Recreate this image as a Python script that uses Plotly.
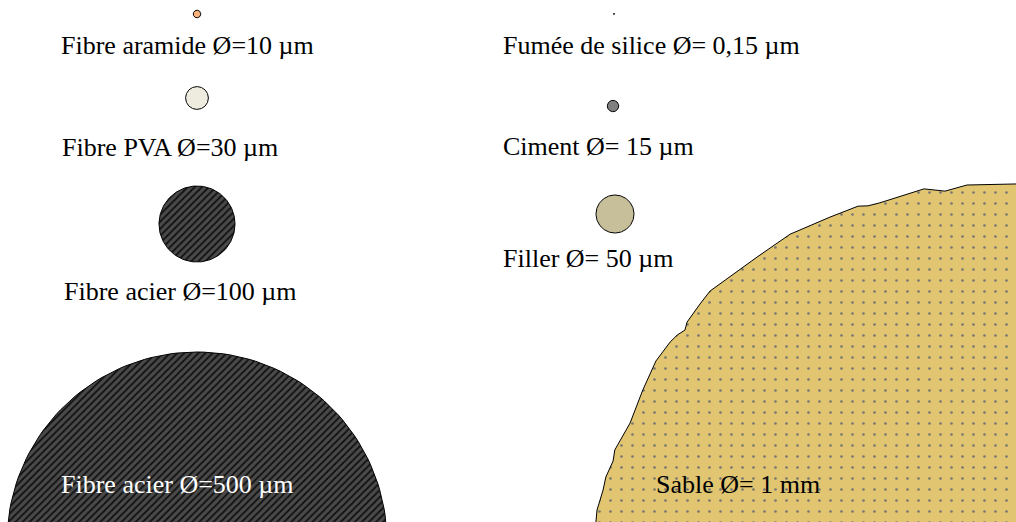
import numpy as np
import plotly.graph_objects as go

# ---------------- data ----------------
# diameters of constituents (µm)
fibre_names = ["Fibre aramide", "Fibre PVA", "Fibre acier", "Fibre acier"]
fibre_diam_um = [10, 30, 100, 500]
fibre_labels = ["Fibre aramide Ø=10 µm", "Fibre PVA Ø=30 µm",
                "Fibre acier Ø=100 µm", "Fibre acier Ø=500 µm"]

grain_names = ["Fumée de silice", "Ciment", "Filler"]
grain_diam_um = [0.15, 15, 50]
grain_labels = ["Fumée de silice Ø= 0,15 µm", "Ciment Ø= 15 µm", "Filler Ø= 50 µm"]

sand_diam_um = 1000
sand_label = "Sable Ø= 1 mm"
# irregular outline of sand grain: polar angle (deg) and radius factor
sand_angle_deg = [-60, -78, -83.98, -91.36, -94.76, -97.92, -104.93, -106.83, -108.29,
                  -112.87, -119.48, -125.59, -134.36, -136.83, -140.18, -141.32,
                  -142.67, -144.16, -147.74, -152.55, -157.97, -162.62, -164.31,
                  -166.92, -168.93, -172.04, -173.84, -180, -200]
sand_radius_factor = [1.0, 1.0, 1.003, 0.995, 0.982, 0.994, 0.981, 0.982, 0.989,
                      0.988, 0.994, 0.990, 1.001, 0.996, 0.990, 0.981,
                      0.989, 0.993, 0.996, 0.988, 0.982, 0.996, 0.992,
                      1.000, 1.000, 1.007, 1.006, 1.005, 1.0]

# ---------------- layout / styling ----------------
W, H = 1016, 522
SCALE = 0.76  # px per µm
fibre_centers = [(197, 14), (197, 98), (197, 224), (197, 542)]
fibre_label_pos = [(59, 45), (60, 147), (62, 291), (59, 484)]
fibre_fill = ["#fbb37e", "#eeebdf", "#4a4a4a", "#4a4a4a"]
fibre_pattern = [None, None, "/", "/"]
fibre_text_color = ["black", "black", "black", "white"]

grain_centers = [(614, 14), (613, 106), (615, 214)]
grain_label_pos = [(501, 45), (501, 146), (501, 258)]
grain_fill = ["black", "#808080", "#c7bf9a"]

sand_center = (976, 563)
sand_label_pos = (654, 484)
SERIF = "Liberation Serif"
FS = 26

fig = go.Figure()

def circle_xy(cx, cy, r, n=180):
    t = np.linspace(0, 2 * np.pi, n + 1)
    return cx + r * np.cos(t), cy + r * np.sin(t)

# sand grain
ang = np.radians(sand_angle_deg)
r_sand = sand_diam_um / 2 * SCALE * np.array(sand_radius_factor)
sx = sand_center[0] + r_sand * np.cos(ang)
sy = sand_center[1] + r_sand * np.sin(ang)
sx = np.concatenate([sx, [sx[-1], 1200, 1200, sx[0]]])
sy = np.concatenate([sy, [700, 700, -50, sy[0]]])
fig.add_trace(go.Scatter(x=sx, y=sy, mode="lines", fill="toself",
                         line=dict(color="black", width=1),
                         fillcolor="#e1c571",
                         fillpattern=dict(shape=".", bgcolor="#e1c571", fgcolor="#767676",
                                          size=11, solidity=0.045, fillmode="replace"),
                         hoverinfo="skip", showlegend=False))

for (cx, cy), d, col, pat in zip(fibre_centers, fibre_diam_um, fibre_fill, fibre_pattern):
    x, y = circle_xy(cx, cy, d / 2 * SCALE)
    kw = {}
    if pat:
        kw["fillpattern"] = dict(shape=pat, bgcolor=col, fgcolor="#111111",
                                 size=5, solidity=0.35, fillmode="replace")
    fig.add_trace(go.Scatter(x=x, y=y, mode="lines", fill="toself", fillcolor=col,
                             line=dict(color="black", width=1),
                             hoverinfo="skip", showlegend=False, **kw))

for (cx, cy), d, col in zip(grain_centers, grain_diam_um, grain_fill):
    x, y = circle_xy(cx, cy, max(d / 2 * SCALE, 0.6))
    fig.add_trace(go.Scatter(x=x, y=y, mode="lines", fill="toself", fillcolor=col,
                             line=dict(color="black", width=1),
                             hoverinfo="skip", showlegend=False))

annotations = []
for (x, y), txt, c in zip(fibre_label_pos, fibre_labels, fibre_text_color):
    annotations.append(dict(x=x, y=y, text=txt, showarrow=False, xanchor="left",
                            yanchor="middle", font=dict(family=SERIF, size=FS, color=c)))
for (x, y), txt in zip(grain_label_pos, grain_labels):
    annotations.append(dict(x=x, y=y, text=txt, showarrow=False, xanchor="left",
                            yanchor="middle", font=dict(family=SERIF, size=FS, color="black")))
annotations.append(dict(x=sand_label_pos[0], y=sand_label_pos[1], text=sand_label,
                        showarrow=False, xanchor="left", yanchor="middle",
                        font=dict(family=SERIF, size=FS, color="black")))

fig.update_layout(
    width=W, height=H, margin=dict(l=0, r=0, t=0, b=0),
    paper_bgcolor="white", plot_bgcolor="white",
    xaxis=dict(range=[0, W], visible=False, fixedrange=True),
    yaxis=dict(range=[H, 0], visible=False, fixedrange=True),
    annotations=annotations,
)
fig.write_html("out.html", config={"displayModeBar": False},
               post_script="document.body.style.margin='0';document.body.style.overflow='hidden';")
